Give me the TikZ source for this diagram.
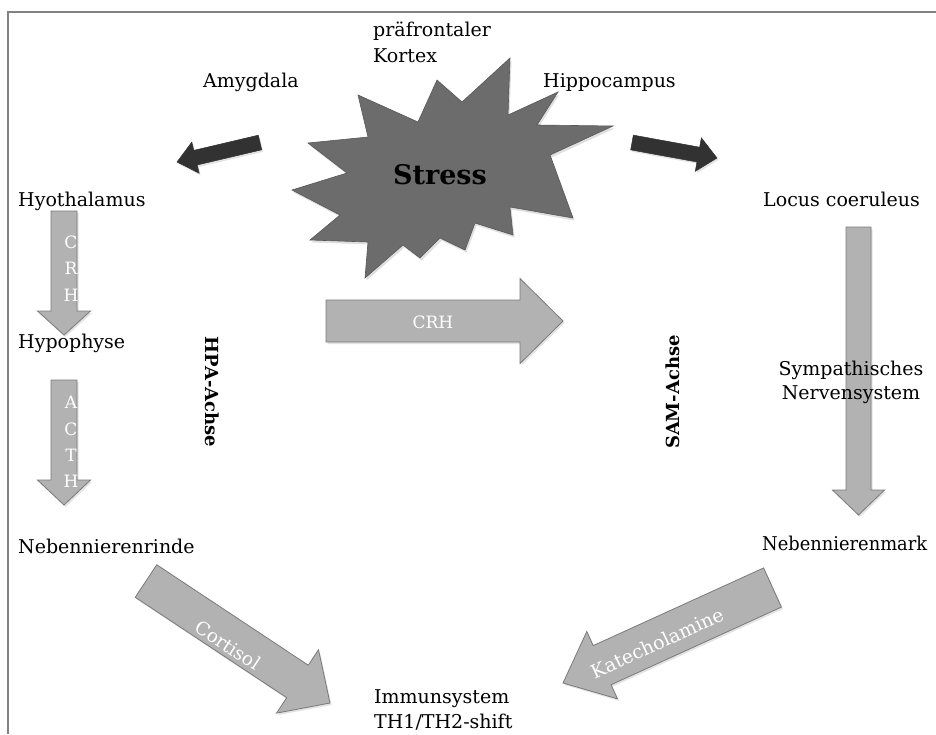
\documentclass[tikz,border=0pt]{standalone}
\usepackage{fontspec}
\setmainfont{DejaVu Serif}
\usetikzlibrary{calc,shadows}
\definecolor{arrgray}{RGB}{178,178,178}
\definecolor{arredge}{RGB}{122,122,122}
\definecolor{stargray}{RGB}{108,108,108}
\definecolor{staredge}{RGB}{88,88,88}
\definecolor{darkarr}{RGB}{50,50,50}
\definecolor{framegray}{RGB}{130,130,130}
% #1 style, #2 tail, #3 tip, #4 half shaft width, #5 half head width, #6 head length
\newcommand\blockarrow[6]{%
  \coordinate (#2#3b) at ($(#3)!#6pt!(#2)$);
  \path[#1] ($(#2)!#4pt!90:(#3)$) -- ($(#2#3b)!#4pt!90:(#3)$) -- ($(#2#3b)!#5pt!90:(#3)$)
    -- (#3) -- ($(#2#3b)!#5pt!-90:(#3)$) -- ($(#2#3b)!#4pt!-90:(#3)$) -- ($(#2)!#4pt!-90:(#3)$) -- cycle;
}
\begin{document}
\begin{tikzpicture}[x=1pt,y=-1pt,
  lbl/.style={font=\fontsize{19}{23}\selectfont, text=black, inner sep=0pt, anchor=base west},
  axislbl/.style={font=\fontsize{18}{22}\selectfont\bfseries, text=black, inner sep=0pt},
  wlbl/.style={font=\fontsize{17}{20}\selectfont, text=white, inner sep=0pt},
  grayarrow/.style={fill=arrgray, draw=arredge, line width=0.8pt, line join=miter,
    drop shadow={shadow xshift=1.5pt, shadow yshift=-2pt, opacity=0.22}},
  darkarrow/.style={fill=darkarr, draw=darkarr, line width=0.5pt,
    drop shadow={shadow xshift=1.5pt, shadow yshift=-2pt, opacity=0.22}},
  starstyle/.style={fill=stargray, draw=staredge, line width=0.6pt, line join=miter,
    drop shadow={shadow xshift=1.5pt, shadow yshift=-2.5pt, opacity=0.25}},
  framestyle/.style={draw=framegray, line width=1.5pt}
]
\useasboundingbox (0,0) rectangle (936,734);
\fill[white] (0,0) rectangle (936,734);

% frame
\coordinate (fbl) at (8,734);
\coordinate (ftl) at (8,12);
\coordinate (ftr) at (936,12);
\draw[framestyle] (fbl) -- (ftl) -- (ftr);

% star
\path[starstyle] (358,95) -- (418,122) -- (437,80) -- (462,102) -- (510,58) -- (508,115)
  -- (558,92) -- (537,125) -- (613,126) -- (550,155) -- (573,218) -- (510,207)
  -- (513,235) -- (475,223) -- (465,250) -- (440,238) -- (420,258) -- (403,245)
  -- (365,278) -- (368,242) -- (310,240) -- (340,215) -- (292,190) -- (347,173)
  -- (308,143) -- (368,137) -- cycle;
\node[font=\fontsize{27}{30}\selectfont\bfseries, inner sep=0pt, anchor=base] (stress) at (440,184) {Stress};

% labels
\node[lbl] (pfk1) at (373,36) {präfrontaler};
\node[lbl] (pfk2) at (373,62) {Kortex};
\node[lbl] (amy) at (203,87) {Amygdala};
\node[lbl] (hip) at (543,87) {Hippocampus};
\node[lbl] (hyo) at (18,206) {Hyothalamus};
\node[lbl] (hyp) at (18,348) {Hypophyse};
\node[lbl] (nnr) at (18,553) {Nebennierenrinde};
\node[lbl] (loc) at (763,206) {Locus coeruleus};
\node[lbl, xscale=0.94] (nnm) at (762,550) {Nebennierenmark};
\node[lbl] (imm1) at (374,703) {Immunsystem};
\node[lbl] (imm2) at (374,728) {TH1/TH2-shift};

% arrow end points
\coordinate (la1) at (260,142.5); \coordinate (la2) at (177,162);
\coordinate (ra1) at (632,142.5); \coordinate (ra2) at (717,158);
\coordinate (c1a) at (64,211);    \coordinate (c1b) at (64,335);
\coordinate (c2a) at (64,380);    \coordinate (c2b) at (64,505);
\coordinate (ha) at (326,321);    \coordinate (hb) at (563,321);
\coordinate (sa) at (858.5,227);  \coordinate (sb) at (858.5,515);
\coordinate (coa) at (146,581);   \coordinate (cob) at (330,703);
\coordinate (kta) at (772.5,587.5); \coordinate (ktb) at (563,683);

% dark arrows
\blockarrow{darkarrow}{la1}{la2}{7.5}{16}{19}
\blockarrow{darkarrow}{ra1}{ra2}{7.5}{17}{19}

% gray arrows
\blockarrow{grayarrow}{c1a}{c1b}{13}{26.5}{24}
\blockarrow{grayarrow}{c2a}{c2b}{13}{26.5}{25}
\blockarrow{grayarrow}{ha}{hb}{21}{42.5}{43}
\blockarrow{grayarrow}{sa}{sb}{12.5}{26}{25}
\blockarrow{grayarrow}{coa}{cob}{19.5}{38}{39}
\blockarrow{grayarrow}{kta}{ktb}{21.5}{37}{43}

% text in arrows
\node[wlbl] (crhC) at (71,242) {C};
\node[wlbl] (crhR) at (71,268) {R};
\node[wlbl] (crhH) at (71,295) {H};
\node[wlbl] (actA) at (71,402) {A};
\node[wlbl] (actC) at (71,429) {C};
\node[wlbl] (actT) at (71,455) {T};
\node[wlbl] (actH) at (71,481) {H};
\node[wlbl] (crhh) at (433,322) {CRH};
\node[wlbl, font=\fontsize{18.5}{22}\selectfont, rotate=-33.5] (cort) at (228,645) {Cortisol};
\node[wlbl, font=\fontsize{19}{22}\selectfont, rotate=24.7] (kat) at (657,643) {Katecholamine};

% text over right arrow
\node[font=\fontsize{19}{23}\selectfont, inner sep=0pt, anchor=base] (sym1) at (851,375) {Sympathisches};
\node[font=\fontsize{19}{23}\selectfont, inner sep=0pt, anchor=base] (sym2) at (851,399) {Nervensystem};

% axis labels
\node[axislbl, rotate=-90] (hpa) at (212,392) {HPA-Achse};
\node[axislbl, rotate=90] (sam) at (673,392) {SAM-Achse};
\end{tikzpicture}
\end{document}
